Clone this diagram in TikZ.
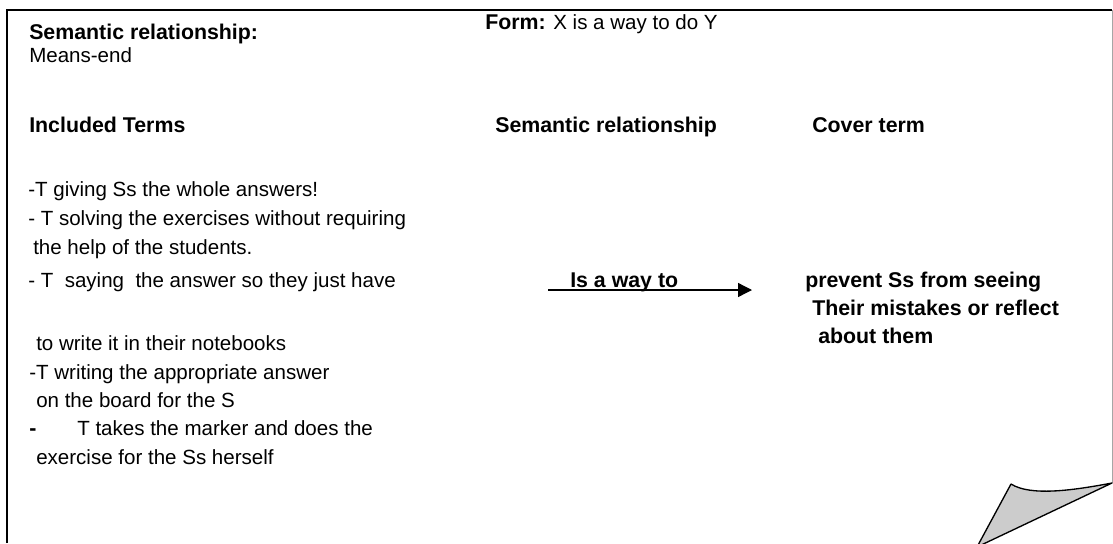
\documentclass[tikz,border=0pt]{standalone}
\usepackage{fontspec}
\setmainfont{Liberation Sans}
\usetikzlibrary{arrows.meta}

\tikzset{
	txt/.style={anchor=base west, inner sep=0pt, font=\fontsize{15.4}{18}\selectfont},
	bld/.style={anchor=base west, inner sep=0pt, font=\fontsize{16}{19}\selectfont\bfseries},
}

\begin{document}
\begin{tikzpicture}[x=0.75pt, y=-0.75pt]
	\useasboundingbox (0, 0) rectangle (1113, 543);
	\clip (0, 0) rectangle (1113, 543);
	% page frame
	\draw[line width=1.5pt] (7, 543) -- (7, 10) -- (1112, 10);
	\draw[gray!70, line width=0.6pt] (1112, 10) -- (1112, 483);
	% turned-up corner
	\draw[fill=black!20, line width=1pt, line join=round] (1112, 483) .. controls (1070, 491) and (1030, 496) .. (1011, 484) -- (977, 547) -- cycle;

	% header
	\node[bld] (rel) at (29, 39) {Semantic relationship:};
	\node[txt] (means) at (29, 62) {Means-end};
	\node[txt] (form) at (485, 29) {\textbf{\fontsize{16}{19}\selectfont Form:} X is a way to do Y};

	% column titles
	\node[bld] (incl) at (29, 132) {Included Terms};
	\node[bld] (semrel) at (495, 132) {Semantic relationship};
	\node[bld] (cover) at (812, 132) {Cover term};

	% included terms
	\node[txt] (t1) at (28, 196) {-T giving Ss the whole answers!};
	\node[txt] (t2) at (28, 225) {- T solving the exercises without requiring};
	\node[txt] (t3) at (33, 254) {the help of the students.};
	\node[txt] (t4) at (28, 287) {- T~ saying~ the answer so they just have};
	\node[txt] (t5) at (36, 350) {to write it in their notebooks};
	\node[txt] (t6) at (29, 379) {-T writing the appropriate answer};
	\node[txt] (t7) at (36, 407) {on the board for the S};
	\node[bld] (t8dash) at (29, 435) {-};
	\node[txt] (t8) at (77, 435) {T takes the marker and does the};
	\node[txt] (t9) at (36, 464) {exercise for the Ss herself};

	% relation arrow
	\node[bld] (way) at (570, 287) {Is a way to};
	\coordinate (wayS) at (548, 290);
	\coordinate (wayE) at (752, 290);
	\draw[line width=1pt, -{Triangle[length=10.5pt, width=10.5pt]}] (wayS) -- (wayE);

	% cover term
	\node[bld] (c1) at (805, 287) {prevent Ss from seeing};
	\node[bld] (c2) at (812, 315) {Their mistakes or reflect};
	\node[bld] (c3) at (818, 343) {about them};
\end{tikzpicture}
\end{document}
